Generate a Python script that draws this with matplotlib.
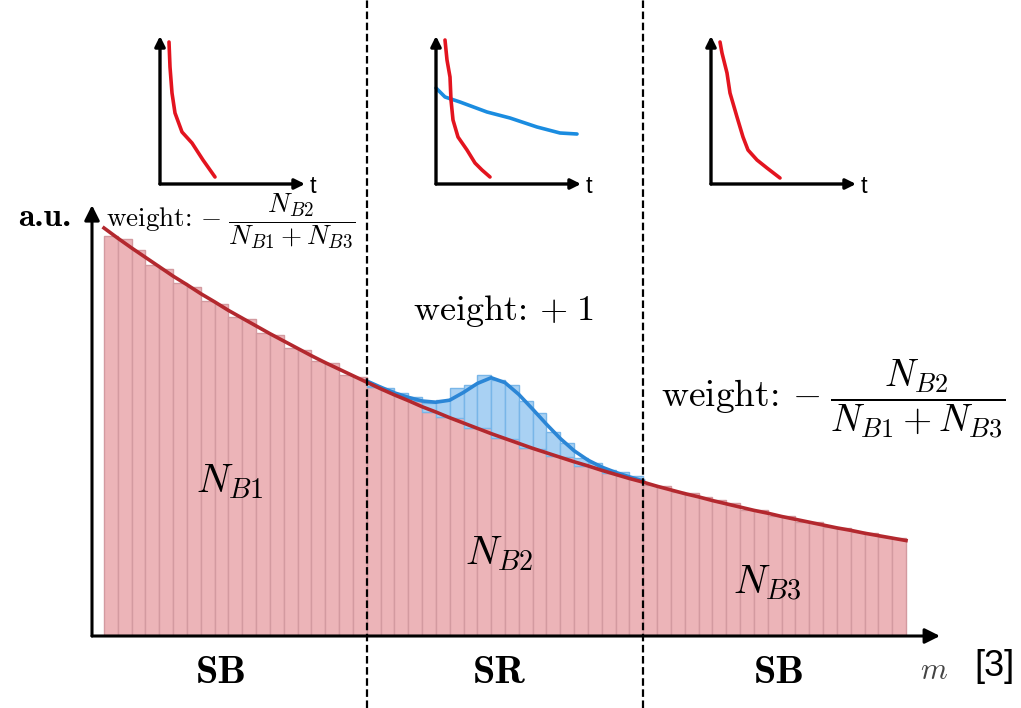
import matplotlib
matplotlib.use("Agg")
import matplotlib.pyplot as plt
import numpy as np

plt.rcParams["mathtext.fontset"] = "cm"
plt.rcParams["axes.unicode_minus"] = False

# ---------------- data ----------------
# histogram of the mass variable: 58 equal bins
n_bins = 58
sr_lo, sr_hi = 19, 39          # signal-region bin edges

# background counts per bin (a.u.)
bkg_counts = [
    98.0, 97.2, 94.6, 91.0, 89.9, 86.5, 85.6, 82.2, 81.4, 78.3,
    77.6, 74.2, 73.8, 70.6, 70.2, 67.3, 66.8, 63.9, 63.5, 61.0,
    60.4, 58.9, 57.6, 55.0, 53.6, 53.4, 51.0, 50.9, 48.6, 48.3,
    46.2, 45.9, 44.0, 43.8, 41.7, 41.5, 40.0, 39.5, 38.6, 37.0,
    36.8, 35.2, 35.0, 34.1, 33.3, 32.6, 31.0, 30.9, 29.5, 29.3,
    28.0, 27.9, 26.7, 26.5, 25.4, 25.2, 24.2, 24.0,
]

# signal counts stacked on the background inside the signal region (bins 19..38)
sig_counts = [
    0.3, 0.4, 0.6, 1.0, 2.0, 4.2, 7.5, 10.5, 13.0, 14.2,
    13.2, 11.4, 8.8, 6.0, 3.6, 2.0, 1.0, 0.7, 0.6, 0.5,
]

# background fit evaluated at bin edges
bkg_fit = [
    100.0, 97.5, 95.1, 92.8, 90.5, 88.2, 86.1, 83.9, 81.9, 79.8,
    77.9, 76.0, 74.1, 72.3, 70.5, 68.7, 67.0, 65.4, 63.8, 62.2,
    60.6, 59.1, 57.7, 56.2, 54.9, 53.5, 52.2, 50.9, 49.6, 48.4,
    47.2, 46.0, 44.9, 43.8, 42.7, 41.7, 40.6, 39.6, 38.6, 37.7,
    36.7, 35.8, 34.9, 34.1, 33.2, 32.4, 31.6, 30.8, 30.1, 29.3,
    28.6, 27.9, 27.2, 26.5, 25.9, 25.2, 24.6, 24.0, 23.4,
]

# signal component of the fit at the signal-region bin edges (19..39)
sig_fit = [
    0.3, 0.4, 0.5, 0.8, 1.4, 2.4, 4.3, 7.5, 11.0, 13.7,
    13.7, 12.0, 9.6, 7.0, 4.6, 2.7, 1.4, 0.8, 0.5, 0.4, 0.3,
]

# sketches of decay time distributions above each region
inset1_t = [9, 10, 12, 15, 22, 32, 43, 55]
inset1_red = [142, 117, 91, 71, 52, 41, 24, 7]

inset2_t_red = [9, 11, 14, 15, 17, 22, 31, 39, 46, 54]
inset2_red = [144, 124, 107, 84, 64, 47, 34, 21, 14, 7]
inset2_t_blue = [0, 9, 24, 51, 74, 101, 124, 141]
inset2_blue = [96, 87, 82, 72, 66, 57, 51, 50]

inset3_t = [9, 11, 16, 19, 26, 32, 37, 46, 56, 69]
inset3_red = [142, 131, 111, 91, 67, 47, 34, 24, 16, 6]

region_labels = ["SB", "SR", "SB"]
region_pos = [8.5, 28.6, 48.8]
yield_labels = [r"$N_{B1}$", r"$N_{B2}$", r"$N_{B3}$"]
weight_sb = r"weight: $-\;\dfrac{N_{B2}}{N_{B1}+N_{B3}}$"
weight_sr = r"weight: $+\;1$"

# ---------------- layout ----------------
W, H = 1021, 708
fig = plt.figure(figsize=(W / 100, H / 100), dpi=100)
fig.patch.set_facecolor("white")


def px_axes(x0, y0, x1, y1):
    """Axes placed by pixel box (top-left origin)."""
    return fig.add_axes([x0 / W, 1 - y1 / H, (x1 - x0) / W, (y1 - y0) / H])


def fx(x):
    return x / W


def fy(y):
    return 1 - y / H


# main histogram axes: arrow axes from (92, 636) to (940, 205)
ax = px_axes(92, 205, 940, 636)
bin_px = (906 - 104) / n_bins
xl = -(104 - 92) / bin_px
xr = n_bins + (940 - 906) / bin_px
ax.set_xlim(xl, xr)
ax.set_ylim(0, 431 / 4.08)
ax.axis("off")

edges = np.arange(n_bins + 1)
pink = "#ecb4b8"
pink_edge = "#d39aa0"
ax.bar(edges[:-1], bkg_counts, width=1, align="edge", color=pink,
       edgecolor=pink_edge, linewidth=1.0, zorder=2)

sr_edges = edges[sr_lo:sr_hi]
ax.bar(sr_edges, sig_counts, width=1, align="edge",
       bottom=np.array(bkg_counts[sr_lo:sr_hi]),
       color="#a9d1f3", edgecolor="#79b6e8", linewidth=1.0, zorder=2)

ax.plot(edges, bkg_fit, color="#b3282e", lw=2.6, zorder=4)
tot_fit = np.array(bkg_fit[sr_lo:sr_hi + 1]) + np.array(sig_fit)
ax.plot(edges[sr_lo:sr_hi + 1], tot_fit, color="#2b86d6", lw=2.6, zorder=3)

# arrow axes
arrow_kw = dict(arrowstyle="-|>,head_length=0.9,head_width=0.45",
                color="black", lw=2.2, shrinkA=0, shrinkB=0)
ax.annotate("", xy=(xl, 105.6), xytext=(xl, 0), arrowprops=arrow_kw,
            annotation_clip=False, zorder=6)
ax.annotate("", xy=(xr, 0), xytext=(xl, 0), arrowprops=arrow_kw,
            annotation_clip=False, zorder=6)

# region separators running over the full height
for xe in (sr_lo, sr_hi):
    ax.axvline(xe, ymin=-(H - 636) / 431, ymax=1 + 205 / 431, color="black",
               lw=1.6, dashes=(3.4, 1.6), clip_on=False, zorder=7)

# region names under the mass axis
xtr = ax.get_xaxis_transform()
for lab, xp in zip(region_labels, region_pos):
    ax.text(xp, -0.086, lab, transform=xtr, ha="center", va="center",
            fontsize=29, family="cmb10")
ax.text(xr - 0.4, -0.08, r"$m$", transform=xtr, ha="center", va="center",
        fontsize=22, color="#444444")

# yields of the three regions
ax.text(9.1, 38.0, yield_labels[0], ha="center", va="center", fontsize=29)
ax.text(28.6, 20.4, yield_labels[1], ha="center", va="center", fontsize=29)
ax.text(48.0, 13.0, yield_labels[2], ha="center", va="center", fontsize=29)

# weights
fig.text(fx(18), fy(218), "a.u.", ha="left", va="center", fontsize=24,
         family="cmb10")
fig.text(fx(106), fy(221), weight_sb, ha="left", va="center", fontsize=19.5,
         family="cmr10")
fig.text(fx(1006), fy(399), weight_sb, ha="right", va="center", fontsize=27,
         family="cmr10")
fig.text(fx(503), fy(311), weight_sr, ha="center", va="center", fontsize=26,
         family="cmr10")

fig.text(fx(1015), fy(666), "[3]", ha="right", va="center",
         fontsize=26, family="Liberation Sans")

# ---------------- inset sketches ----------------
inset_red = "#e3141f"
inset_blue = "#1a8ce0"
small_arrow = dict(arrowstyle="-|>,head_length=0.6,head_width=0.3",
                   color="black", lw=2.4, shrinkA=0, shrinkB=0)


def sketch(x0, series):
    # origin at (x0, 184), arrow tips 145 px right and 148 px up
    a = px_axes(x0, 36, x0 + 145, 184)
    a.set_xlim(0, 145)
    a.set_ylim(0, 148)
    a.axis("off")
    a.annotate("", xy=(0, 148), xytext=(0, 0), arrowprops=small_arrow,
               annotation_clip=False)
    a.annotate("", xy=(145, 0), xytext=(0, 0), arrowprops=small_arrow,
               annotation_clip=False)
    for t, v, c in series:
        a.plot(t, v, color=c, lw=2.6, solid_capstyle="round",
               solid_joinstyle="round", clip_on=False)
    a.text(153, -3, "t", ha="center", va="center", fontsize=17,
           family="Liberation Sans")


sketch(160, [(inset1_t, inset1_red, inset_red)])
sketch(436, [(inset2_t_blue, inset2_blue, inset_blue),
             (inset2_t_red, inset2_red, inset_red)])
sketch(711, [(inset3_t, inset3_red, inset_red)])

fig.savefig("out.png", dpi=100, facecolor="white")
